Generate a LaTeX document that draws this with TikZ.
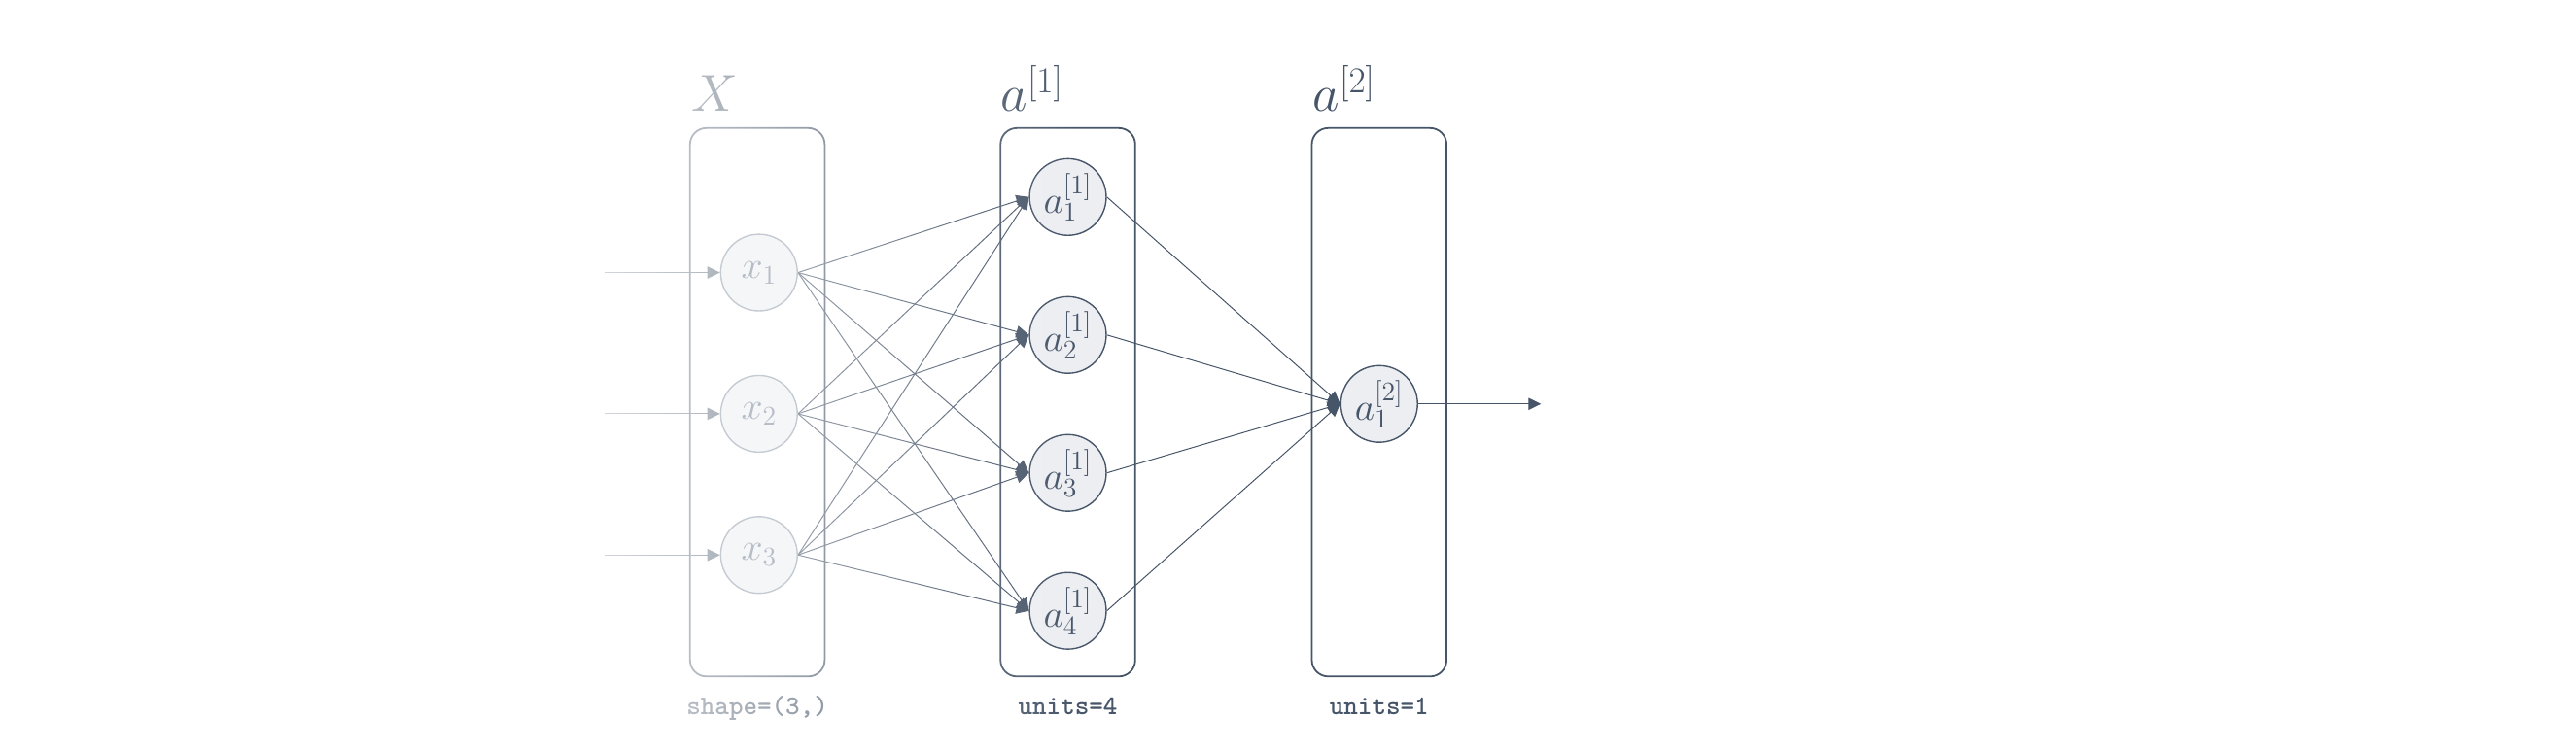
\RequirePackage{fix-cm}
\documentclass[tikz,border=0pt]{standalone}
\usetikzlibrary{arrows.meta,fadings}
\definecolor{slate}{HTML}{475569}
\definecolor{nodefill}{HTML}{ECEEF2}
\definecolor{inedge}{HTML}{C5CBD3}
\definecolor{infill}{HTML}{F5F6F8}
\definecolor{intext}{HTML}{B6BDC7}
\tikzfading[name=leftfade, left color=transparent!0, right color=transparent!100]
\pgfdeclarelayer{bg}
\pgfdeclarelayer{fade}
\pgfdeclarelayer{fg}
\pgfsetlayers{bg,main,fade,fg}
\begin{document}
\begin{tikzpicture}[x=0.3mm,y=-0.3mm,
  layerbox/.style={draw=slate, line width=0.9pt, rounded corners=3mm, minimum width=24.6mm, minimum height=100.2mm, inner sep=0pt},
  unit/.style={circle, draw=slate, fill=nodefill, line width=0.7pt, minimum size=14mm, inner sep=0pt, text=slate, font=\fontsize{20}{23}\selectfont},
  inunit/.style={unit, draw=inedge, fill=infill, text=intext},
  edge/.style={draw=slate, line width=0.5pt, -{Triangle[length=2.3mm,width=2.2mm]}},
  toplabel/.style={anchor=base west, text=slate, inner sep=0pt, font=\fontsize{27}{30}\selectfont},
  botlabel/.style={anchor=base, text=slate, inner sep=0pt, font=\fontsize{14}{16}\selectfont\ttfamily\bfseries}]
\useasboundingbox (0,0) rectangle (1568,456.8);
% layer boxes
\begin{pgfonlayer}{bg}
\node[layerbox] (LX) at (461,245) {};
\node[layerbox] (L1) at (650,245) {};
\node[layerbox] (L2) at (839.5,245) {};
\end{pgfonlayer}
% top labels
\node[toplabel] (tX) at (421,68) {$X$};
\node[toplabel] (t1) at (609,68) {$a^{[1]}$};
\node[toplabel] (t2) at (799,68) {$a^{[2]}$};
% bottom labels
\node[botlabel] (bX) at (461,435) {shape=(3,)};
\node[botlabel] (b1) at (650,435) {units=4};
\node[botlabel] (b2) at (839.5,435) {units=1};
% input nodes (drawn above the fade)
\begin{pgfonlayer}{fg}
\node[inunit] (x1) at (462,166) {$x_1$};
\node[inunit] (x2) at (462,252) {$x_2$};
\node[inunit] (x3) at (462,338) {$x_3$};
\end{pgfonlayer}
% hidden and output nodes
\node[unit] (h1) at (650,120) {$a^{[1]}_1$};
\node[unit] (h2) at (650,204) {$a^{[1]}_2$};
\node[unit] (h3) at (650,288) {$a^{[1]}_3$};
\node[unit] (h4) at (650,372) {$a^{[1]}_4$};
\node[unit] (o1) at (839.5,246) {$a^{[2]}_1$};
\coordinate (in1) at (368,166);
\coordinate (in2) at (368,252);
\coordinate (in3) at (368,338);
\coordinate (out) at (938,246);
% edges
\begin{pgfonlayer}{bg}
\foreach \i in {1,2,3} {
  \draw[edge] (in\i) -- (x\i.west);
  \foreach \j in {1,2,3,4} {
    \draw[edge] (x\i.east) -- (h\j.west);
  }
}
\foreach \j in {1,2,3,4} {
  \draw[edge] (h\j.east) -- (o1.west);
}
\draw[edge] (o1.east) -- (out);
\end{pgfonlayer}
% fade of the input layer
\begin{pgfonlayer}{fade}
\fill[white, path fading=leftfade] (275,20) rectangle (655,450);
\end{pgfonlayer}
\end{tikzpicture}
\end{document}
